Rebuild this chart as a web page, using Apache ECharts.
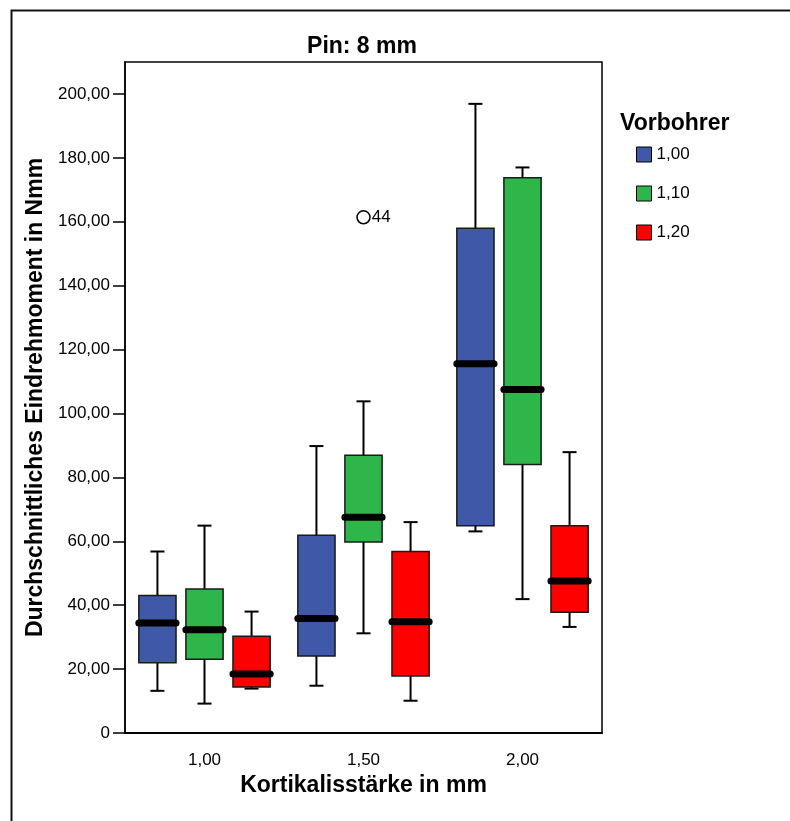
<!DOCTYPE html>
<html>
<head>
<meta charset="utf-8">
<script src="https://cdn.jsdelivr.net/npm/echarts@6/dist/echarts.min.js"></script>
<style>
  html, body { margin: 0; padding: 0; background: #fff; }
  #chart { width: 790px; height: 821px; }
</style>
</head>
<body>
<div id="chart"></div>
<script>
// Kortikalisstärke (x categories)
var categories = ['1,00', '1,50', '2,00'];
// Vorbohrer groups
var groupNames = ['1,00', '1,10', '1,20'];
var groupColors = ['#3f58a8', '#2fb64a', '#ff0000'];

// [min, q1, median, q3, max] per category
var vorbohrer100 = [
  [13.2, 22.0, 34.4, 43.0, 56.8],
  [14.8, 24.1, 35.8, 61.9, 89.8],
  [63.1, 64.9, 115.6, 158.0, 196.9]
];
var vorbohrer110 = [
  [9.2, 23.1, 32.3, 45.1, 64.9],
  [31.2, 59.8, 67.5, 86.9, 103.8],
  [41.9, 84.0, 107.5, 173.8, 177.0]
];
var vorbohrer120 = [
  [13.9, 14.4, 18.5, 30.3, 38.0],
  [10.1, 17.8, 34.8, 56.8, 66.0],
  [33.2, 37.8, 47.6, 64.9, 87.9]
];
// outlier: category, value, case label
var outliers = [['1,50', 161.4, '44']];

var yTicks = [0, 20, 40, 60, 80, 100, 120, 140, 160, 180, 200];

var FONT = "'Liberation Sans', Arial, sans-serif";
var chart = echarts.init(document.getElementById('chart'));

function toRows(stats) {
  return stats.map(function (s, i) {
    return [i, s[0], s[1], s[2], s[3], s[4]];
  });
}

// slot: -1 / 0 / 1 -> position of the box inside its category band
function makeRender(slot, color) {
  return function (params, api) {
    var cat = api.value(0);
    var band = api.size([1, 0])[0];
    var cx = api.coord([cat, 0])[0] + slot * band * 0.296;
    var half = band * 0.117;
    var cap = 7;
    var yMin = api.coord([cat, api.value(1)])[1];
    var yQ1 = api.coord([cat, api.value(2)])[1];
    var yMed = api.coord([cat, api.value(3)])[1];
    var yQ3 = api.coord([cat, api.value(4)])[1];
    var yMax = api.coord([cat, api.value(5)])[1];
    var ls = { stroke: '#000', lineWidth: 2 };
    return {
      type: 'group',
      children: [
        { type: 'line', shape: { x1: cx, y1: yMax, x2: cx, y2: yQ3 }, style: ls },
        { type: 'line', shape: { x1: cx, y1: yQ1, x2: cx, y2: yMin }, style: ls },
        { type: 'line', shape: { x1: cx - cap, y1: yMax, x2: cx + cap, y2: yMax }, style: ls },
        { type: 'line', shape: { x1: cx - cap, y1: yMin, x2: cx + cap, y2: yMin }, style: ls },
        {
          type: 'rect',
          shape: { x: cx - half, y: yQ3, width: half * 2, height: yQ1 - yQ3 },
          style: { fill: color, stroke: '#1a1a1a', lineWidth: 1.5 }
        },
        {
          type: 'line',
          shape: { x1: cx - half, y1: yMed, x2: cx + half, y2: yMed },
          style: { stroke: '#000', lineWidth: 7, lineCap: 'round' }
        }
      ]
    };
  };
}

var groupStats = [vorbohrer100, vorbohrer110, vorbohrer120];
var series = groupStats.map(function (stats, k) {
  return {
    name: groupNames[k],
    type: 'custom',
    renderItem: makeRender(k - 1, groupColors[k]),
    itemStyle: { color: groupColors[k], borderColor: '#000', borderWidth: 1 },
    encode: { x: 0, y: [1, 2, 3, 4, 5] },
    data: toRows(stats),
    z: 3
  };
});

series.push({
  name: 'Ausreißer',
  type: 'scatter',
  symbol: 'circle',
  symbolSize: 13,
  itemStyle: { color: '#fff', borderColor: '#000', borderWidth: 1.5, opacity: 1 },
  label: {
    show: true,
    position: 'right',
    distance: 1,
    formatter: function (p) { return p.data[2]; },
    color: '#000',
    opacity: 1,
    textBorderWidth: 0,
    fontFamily: FONT,
    fontSize: 17
  },
  data: outliers,
  z: 4
});

var option = {
  backgroundColor: '#fff',
  animation: false,
  title: [{
    text: 'Pin: 8 mm',
    left: 357,
    top: 30,
    textAlign: 'center',
    textStyle: { fontFamily: FONT, fontSize: 23, fontWeight: 'bold', color: '#000' }
  }, {
    text: 'Vorbohrer',
    left: 615,
    top: 107,
    textStyle: { fontFamily: FONT, fontSize: 23, fontWeight: 'bold', color: '#000' }
  }],
  legend: {
    orient: 'vertical',
    left: 631,
    top: 141,
    itemWidth: 15,
    itemHeight: 15,
    itemGap: 22,
    icon: 'rect',
    data: groupNames,
    textStyle: { fontFamily: FONT, fontSize: 17, color: '#000' },
    itemStyle: { borderColor: '#000', borderWidth: 1 }
  },
  grid: {
    left: 125,
    top: 62,
    right: 188,
    bottom: 88,
    show: true,
    borderColor: '#000',
    borderWidth: 1.5
  },
  xAxis: {
    type: 'category',
    data: categories,
    boundaryGap: true,
    name: 'Kortikalisstärke in mm',
    nameLocation: 'middle',
    nameGap: 35,
    nameTextStyle: { fontFamily: FONT, fontSize: 23, fontWeight: 'bold', color: '#000' },
    axisLine: { lineStyle: { color: '#000', width: 2 } },
    axisTick: { alignWithLabel: true, length: 12, lineStyle: { color: '#000', width: 1.5 } },
    axisLabel: { fontFamily: FONT, fontSize: 17, color: '#000', margin: 19 },
    splitLine: { show: false }
  },
  yAxis: {
    type: 'value',
    min: 0,
    max: 210,
    interval: 20,
    name: 'Durchschnittliches Eindrehmoment in Nmm',
    nameLocation: 'middle',
    nameRotate: 90,
    nameGap: 73,
    nameTextStyle: { fontFamily: FONT, fontSize: 23, fontWeight: 'bold', color: '#000' },
    axisLine: { show: true, lineStyle: { color: '#000', width: 1.5 } },
    axisTick: { show: true, length: 12, customValues: yTicks, lineStyle: { color: '#000', width: 1.5 } },
    axisLabel: {
      customValues: yTicks,
      fontFamily: FONT,
      fontSize: 17,
      color: '#000',
      margin: 15,
      formatter: function (v) {
        return v === 0 ? '0' : v.toFixed(2).replace('.', ',');
      }
    },
    splitLine: { show: false }
  },
  graphic: [{
    type: 'rect',
    left: 9,
    top: 8,
    shape: { width: 900, height: 900 },
    style: { fill: 'none', stroke: '#111', lineWidth: 2 },
    silent: true
  }],
  series: series
};

chart.setOption(option);
</script>
</body>
</html>
